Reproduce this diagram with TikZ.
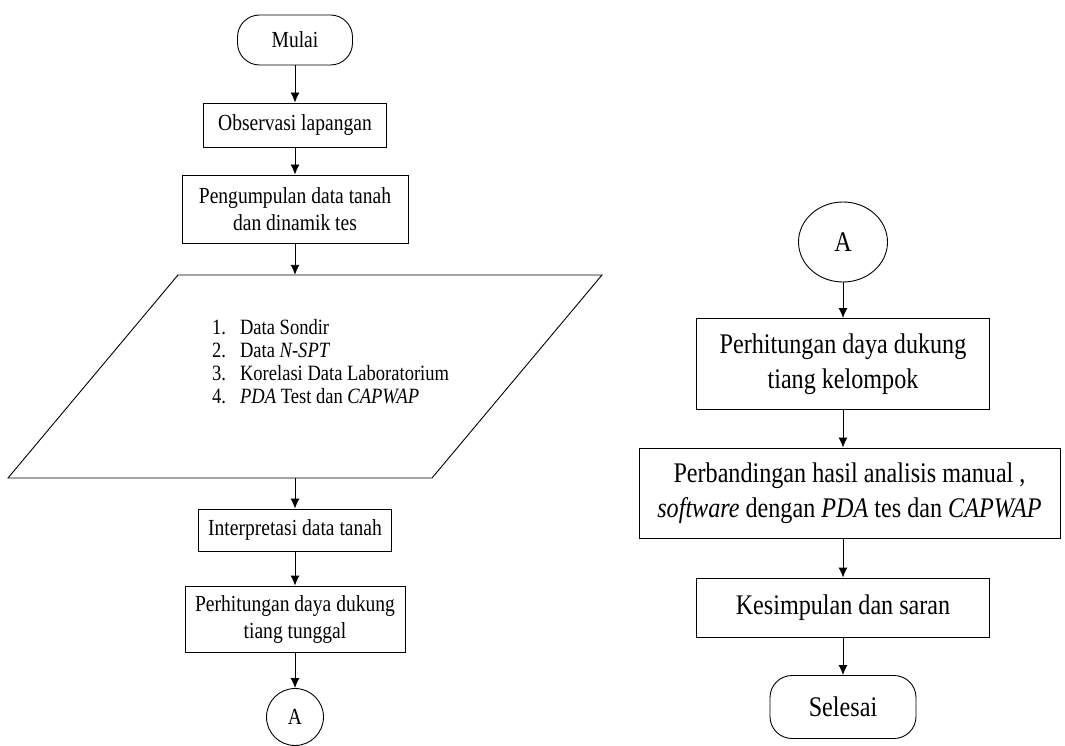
\documentclass[tikz,border=0pt]{standalone}
\usepackage{fontspec}
\setmainfont{Liberation Serif}[FakeStretch=0.85]
\usetikzlibrary{arrows.meta,shapes.geometric}
\begin{document}
\begin{tikzpicture}[x=1pt,y=-1pt,
  lw/.style={line width=0.9pt},
  box/.style={draw,lw,inner sep=0pt,align=center},
  lt/.style={font=\fontsize{23}{27}\selectfont},
  rt/.style={font=\fontsize{28.4}{35.5}\selectfont},
  term/.style={box,rounded corners=22pt},
  conn/.style={draw,lw,ellipse,inner sep=0pt},
  arr/.style={lw,-{Latex[length=10pt,width=9pt]}}]
\useasboundingbox (0,0) rectangle (1065,746);
% left column
\node[term,lt,minimum width=115pt,minimum height=50pt] (mulai) at (295,40) {Mulai};
\node[box,lt,minimum width=183pt,minimum height=44pt] (obs) at (295,125) {Observasi lapangan};
\node[box,lt,minimum width=226pt,minimum height=68pt] (peng) at (295,209) {Pengumpulan data tanah\\dan dinamik tes};
\draw[lw] (178,275) -- (602,275) -- (432,478) -- (8,478) -- cycle;
\node[minimum width=254pt,minimum height=203pt,inner sep=0pt] (data) at (305,376.5) {};
\node[anchor=west,inner sep=0pt] (list) at (212,364) {\fontsize{21.8}{23}\selectfont
  \begin{tabular}{@{}l@{\hspace{14pt}}l@{}}
  1. & Data Sondir\\
  2. & Data \textit{N-SPT}\\
  3. & Korelasi Data Laboratorium\\
  4. & \textit{PDA} Test dan \textit{CAPWAP}
  \end{tabular}};
\node[box,lt,minimum width=193pt,minimum height=42pt] (interp) at (295,530) {Interpretasi data tanah};
\node[box,lt,minimum width=220pt,minimum height=66pt] (tunggal) at (295,619) {Perhitungan daya dukung\\tiang tunggal};
\node[conn,lt,minimum width=57pt,minimum height=57pt] (a1) at (295,717) {A};
\draw[arr] (mulai) -- (obs);
\draw[arr] (obs) -- (peng);
\draw[arr] (peng.south) -- (peng.south |- data.north);
\draw[arr] (interp.north |- data.south) -- (interp.north);
\draw[arr] (interp) -- (tunggal);
\draw[arr] (tunggal) -- (a1);
% right column
\node[conn,rt,minimum width=89pt,minimum height=80pt] (a2) at (843,242) {A};
\node[box,rt,minimum width=293pt,minimum height=91pt] (kel) at (843,364) {Perhitungan daya dukung\\tiang kelompok};
\node[box,rt,minimum width=421pt,minimum height=90pt] (band) at (849.5,493) {Perbandingan hasil analisis manual ,\\\textit{software} dengan \textit{PDA} tes dan \textit{CAPWAP}};
\node[box,rt,minimum width=293pt,minimum height=59pt] (kes) at (843,607.5) {Kesimpulan dan saran};
\node[term,rt,minimum width=146pt,minimum height=63pt] (sel) at (843,707) {Selesai};
\draw[arr] (a2) -- (kel);
\draw[arr] (kel.south) -- (kel.south |- band.north);
\draw[arr] (kel.south |- band.south) -- (kes.north);
\draw[arr] (kes) -- (sel);
\end{tikzpicture}
\end{document}
